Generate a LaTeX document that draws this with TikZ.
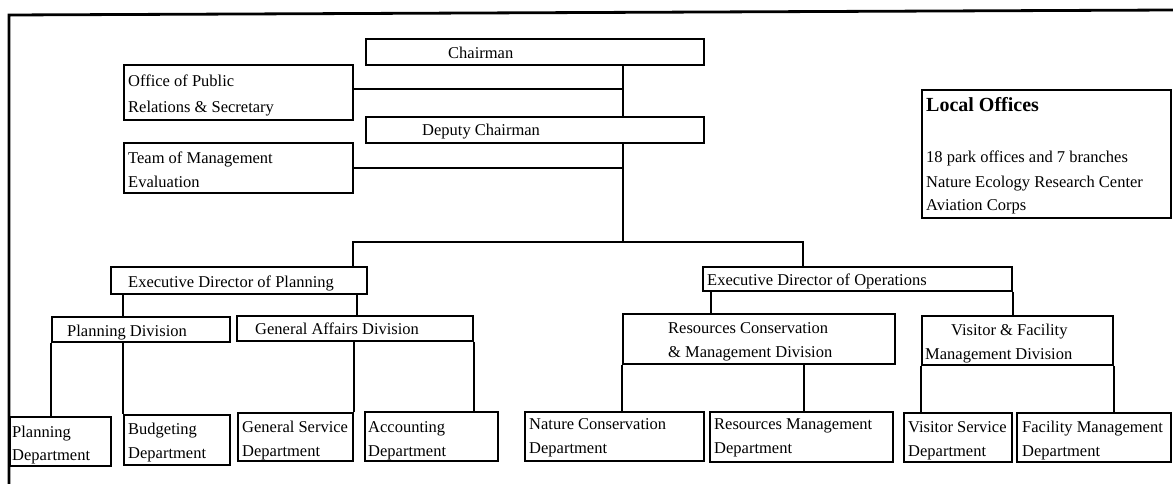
\documentclass[tikz,border=0pt]{standalone}
\usepackage{fontspec}
\setmainfont{Liberation Serif}
\begin{document}
\begin{tikzpicture}[x=1pt,y=-1pt]
\tikzset{
  orgbox/.style={draw, line width=1.8pt, inner sep=0pt},
  lbl/.style={inner sep=0pt, anchor=base west, font=\fontsize{16.5}{25}\selectfont},
  head/.style={lbl, font=\fontsize{20}{25}\selectfont\bfseries},
  link/.style={line width=1.8pt},
  frameline/.style={line width=2.8pt}
}
% box from its two corners: name, x1, y1, x2, y2
\newcommand\orgunit[5]{%
  \node[orgbox, minimum width={(#4-#2)*1pt}, minimum height={(#5-#3)*1pt}]
    (#1) at ({(#2+#4)/2},{(#3+#5)/2}) {};}
\useasboundingbox (0,0) rectangle (1173,484);

% page frame
\coordinate (fBL) at (9,484);
\coordinate (fTL) at (9,15);
\coordinate (fTR) at (1173,10);
\draw[frameline] (fBL) -- (fTL) -- (fTR);

% boxes
\orgunit{chair}{366}{39}{704}{65}
\orgunit{deputy}{366}{117}{704}{143}
\orgunit{office}{124}{65}{353}{120}
\orgunit{team}{124}{143}{353}{193}
\orgunit{local}{922}{90}{1171}{218}
\orgunit{execP}{111}{267}{367}{294}
\orgunit{execO}{703}{267}{1012}{291}
\orgunit{plandiv}{52}{317}{230}{342}
\orgunit{genaff}{237}{316}{473}{341}
\orgunit{rescons}{623}{314}{895}{364}
\orgunit{visdiv}{922}{316}{1113}{365}
\orgunit{plandept}{10}{417}{111}{466}
\orgunit{budget}{124}{415}{230}{465}
\orgunit{genserv}{238}{413}{353}{461}
\orgunit{acct}{365}{412}{498}{461}
\orgunit{natcons}{525}{412}{704}{461}
\orgunit{resmgmt}{710}{412}{893}{462}
\orgunit{visserv}{904}{413}{1012}{462}
\orgunit{facmgmt}{1017}{413}{1171}{462}

% labels
\node[lbl] (chair-t) at (448,59) {Chairman};
\node[lbl] (deputy-t) at (422,136) {Deputy Chairman};
\node[lbl] (office-t1) at (128,87) {Office of Public};
\node[lbl] (office-t2) at (128,113) {Relations \& Secretary};
\node[lbl] (team-t1) at (128,164) {Team of Management};
\node[lbl] (team-t2) at (128,188) {Evaluation};
\node[head] (local-t0) at (926,112) {Local Offices};
\node[lbl] (local-t1) at (926,163) {18 park offices and 7 branches};
\node[lbl] (local-t2) at (926,187) {Nature Ecology Research Center};
\node[lbl] (local-t3) at (926,211) {Aviation Corps};
\node[lbl] (execP-t) at (128,287) {Executive Director of Planning};
\node[lbl] (execO-t) at (707,285) {Executive Director of Operations};
\node[lbl] (plandiv-t) at (67,336) {Planning Division};
\node[lbl] (genaff-t) at (255,334) {General Affairs Division};
\node[lbl] (rescons-t1) at (668,333) {Resources Conservation};
\node[lbl] (rescons-t2) at (668,357) {\& Management Division};
\node[lbl] (visdiv-t1) at (951,335) {Visitor \& Facility};
\node[lbl] (visdiv-t2) at (925,359) {Management Division};
\node[lbl] (plandept-t1) at (12,437) {Planning};
\node[lbl] (plandept-t2) at (12,460) {Department};
\node[lbl] (budget-t1) at (128,434) {Budgeting};
\node[lbl] (budget-t2) at (128,458) {Department};
\node[lbl] (genserv-t1) at (242,432) {General Service};
\node[lbl] (genserv-t2) at (242,456) {Department};
\node[lbl] (acct-t1) at (368,432) {Accounting};
\node[lbl] (acct-t2) at (368,456) {Department};
\node[lbl] (natcons-t1) at (529,429) {Nature Conservation};
\node[lbl] (natcons-t2) at (529,453) {Department};
\node[lbl] (resmgmt-t1) at (714,429) {Resources Management};
\node[lbl] (resmgmt-t2) at (714,453) {Department};
\node[lbl] (visserv-t1) at (908,432) {Visitor Service};
\node[lbl] (visserv-t2) at (908,456) {Department};
\node[lbl] (facmgmt-t1) at (1022,432) {Facility Management};
\node[lbl] (facmgmt-t2) at (1022,456) {Department};

% junction points of the connectors
\coordinate (trunk) at (623,242);
\coordinate (busL) at (353,242);
\coordinate (busR) at (803,242);
\coordinate (orow) at (0,89);
\coordinate (gcol) at (357,0);
\coordinate (rcol) at (711,0);
\coordinate (mcol) at (804,0);

% connectors
\draw[link] (chair.south -| trunk) -- (deputy.north -| trunk);
\draw[link] (deputy.south -| trunk) -- (trunk);
\draw[link] (office.east |- orow) -- (trunk |- orow);
\draw[link] (team.east) -- (team.east -| trunk);
\draw[link] (busL |- execP.north) -- (busL) -- (busR) -- (busR |- execO.north);
\draw[link] (execP.south -| budget.west) -- (plandiv.north -| budget.west);
\draw[link] (plandiv.south -| budget.west) -- (budget.north west);
\draw[link] (execP.south -| gcol) -- (genaff.north -| gcol);
\draw[link] (plandiv.south west) -- (plandiv.south west |- plandept.north);
\draw[link] (genaff.south -| genserv.east) -- (genserv.north east);
\draw[link] (genaff.south east) -- (genaff.south east |- acct.north);
\draw[link] (execO.south -| rcol) -- (rescons.north -| rcol);
\draw[link] (execO.south east) -- (execO.south east |- visdiv.north);
\draw[link] (rescons.south west) -- (rescons.south west |- natcons.north);
\draw[link] (rescons.south -| mcol) -- (resmgmt.north -| mcol);
\draw[link] (visdiv.south west) -- (visdiv.south west |- visserv.north);
\draw[link] (visdiv.south east) -- (visdiv.south east |- facmgmt.north);
\end{tikzpicture}
\end{document}
